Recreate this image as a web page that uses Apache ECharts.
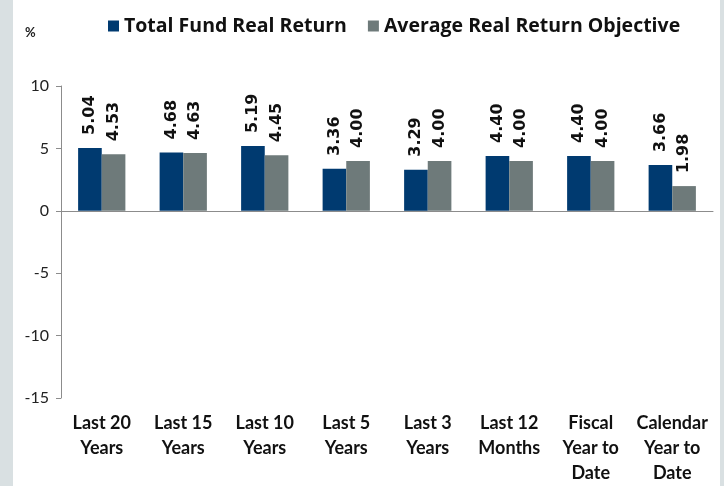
<!DOCTYPE html>
<html><head><meta charset="utf-8">
<script src="https://cdn.jsdelivr.net/npm/echarts@6/dist/echarts.min.js"></script>
<style>
html,body{margin:0;padding:0;background:#fff;}
#wrap{position:relative;width:724px;height:486px;overflow:hidden;background:#fff;}
#chart{position:absolute;left:0;top:0;width:724px;height:486px;}
.strip{position:absolute;top:0;height:486px;background:#d9e0e2;}
</style></head>
<body><div id="wrap"><div id="chart"></div>
<div class="strip" style="left:0;width:13px"></div>
<div class="strip" style="left:720px;width:4px"></div></div>
<script>
const categories = ['Last 20\nYears','Last 15\nYears','Last 10\nYears','Last 5\nYears','Last 3\nYears','Last 12\nMonths','Fiscal\nYear to\nDate','Calendar\nYear to\nDate'];
const totalFund = [5.04, 4.68, 5.19, 3.36, 3.29, 4.40, 4.40, 3.66];
const objective = [4.53, 4.63, 4.45, 4.00, 4.00, 4.00, 4.00, 1.98];
const yTicks = {min: -15, max: 10, interval: 5};
const seriesNames = ['Total Fund Real Return', 'Average Real Return Objective'];

const font = 'Lato, "Open Sans", sans-serif';
const chart = echarts.init(document.getElementById('chart'), null, {renderer:'canvas'});
const lbl = {
  show: true, position: 'top', rotate: 90, align: 'left', verticalAlign: 'middle',
  distance: 13, fontFamily: '"DejaVu Sans", sans-serif', fontWeight: 'bold', fontSize: 16, color: '#111',
  formatter: p => p.value.toFixed(2)
};
chart.setOption({
  animation: false,
  backgroundColor: '#fff',
  grid: {left: 61, right: 11, top: 86, bottom: 85},
  graphic: [{type:'text', left: 25, top: 26, style:{text:'%', font:'bold 13px ' + font, fill:'#222'}}],
  legend: {
    left: 103, top: 11, itemWidth: 11, itemHeight: 11, itemGap: 21,
    textStyle: {fontFamily: '"Open Sans", sans-serif', fontWeight: 'bold', fontSize: 19.5, color: '#111'},
    data: seriesNames.map(n => ({name: n, icon: 'rect'}))
  },
  xAxis: [
    {type:'category', data: categories, axisLine:{onZero:true, lineStyle:{color:'#8c8c8c', width:1}},
     axisTick:{show:false}, axisLabel:{show:false}},
    {type:'category', data: categories, position:'bottom', axisLine:{show:false}, axisTick:{show:false},
     axisLabel:{interval:0, margin: 13, fontFamily: font, fontWeight:'bold', fontSize: 18, lineHeight: 25, color:'#111'}}
  ],
  yAxis: {
    type:'value', min: yTicks.min, max: yTicks.max, interval: yTicks.interval,
    splitLine:{show:false},
    axisLine:{show:true, lineStyle:{color:'#8c8c8c'}},
    axisTick:{show:true, length:5, lineStyle:{color:'#8c8c8c'}},
    axisLabel:{margin: 12, fontFamily: font, fontSize: 16, color:'#222'}
  },
  series: [
    {name: seriesNames[0], type:'bar', xAxisIndex:0, data: totalFund, barGap:'0%', barCategoryGap:'42%',
     itemStyle:{color:'#003a70'}, label: lbl},
    {name: seriesNames[1], type:'bar', xAxisIndex:0, data: objective,
     itemStyle:{color:'#6e7a7a'}, label: lbl}
  ]
});
</script></body></html>
